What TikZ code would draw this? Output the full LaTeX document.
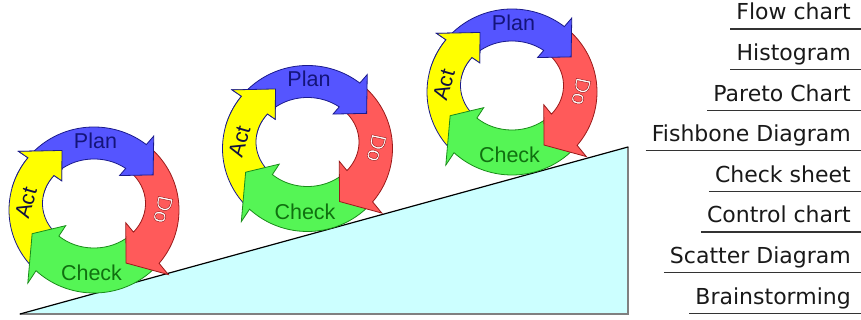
\documentclass[tikz,border=0pt]{standalone}
\usepackage{fontspec}
\newfontfamily\pdcafont{Liberation Sans}
\newfontfamily\listfont{DejaVu Sans}
\usetikzlibrary{calc}

\definecolor{planfill}{HTML}{5555FF}
\definecolor{planline}{HTML}{1A1A8C}
\definecolor{plantext}{HTML}{14147A}
\definecolor{dofill}{HTML}{FF5A5A}
\definecolor{doline}{HTML}{9A1A1A}
\definecolor{checkfill}{HTML}{55F555}
\definecolor{checkline}{HTML}{1A8C1A}
\definecolor{checktext}{HTML}{107010}
\definecolor{actfill}{HTML}{FFFF00}
\definecolor{actline}{HTML}{1A1A8C}
\definecolor{acttext}{HTML}{101040}
\definecolor{slopefill}{HTML}{CCFFFF}
\definecolor{slopeedge}{HTML}{808080}

% ring geometry: s=0 on the inner ellipse (51.5 x 44.5, raised 6.5), s=1 on the outer one (85 x 83)
\pgfmathdeclarefunction{ringx}{2}{\pgfmathparse{(51.5+(#2)*33.5)*cos(#1)}}
\pgfmathdeclarefunction{ringy}{2}{\pgfmathparse{6.5*(1-(#2))+(44.5+(#2)*38.5)*sin(#1)}}

% curved arrow: tail angle, head base angle, tip angle, fill, outline
\newcommand\ringarrow[5]{%
  \filldraw[fill=#4, draw=#5, arrowline]
    plot[domain=#1:#2, samples=40] ({ringx(\x,1)},{ringy(\x,1)})
    -- ({ringx(#2,1.36)},{ringy(#2,1.36)})
    -- ({ringx(#3,0.5)},{ringy(#3,0.5)})
    -- ({ringx(#2,-0.3)},{ringy(#2,-0.3)})
    -- plot[domain=#2:#1, samples=40] ({ringx(\x,0)},{ringy(\x,0)})
    -- cycle;}

% glyphs filled in the current colour and stroked with a thin dark red rim
\newcommand\rimmed[1]{%
  \special{pdf:literal direct 2 Tr 0.45 w 0.62 0.08 0.08 RG}#1%
  \special{pdf:literal direct 0 Tr}}

% one Plan-Do-Check-Act wheel centred at (#1,#2), nodes suffixed #3
\newcommand\pdcawheel[3]{%
  \begin{scope}[shift={(#1,#2)}]
    \ringarrow{222}{141}{118}{actfill}{actline}
    \ringarrow{-45}{-133}{-155}{checkfill}{checkline}
    \ringarrow{47}{-40}{-62}{dofill}{doline}
    \ringarrow{136}{52}{30}{planfill}{planline}
    \begin{scope}
      \clip (0,0) -- (165:160) -- (132:160) -- (100:160) -- cycle;
      \ringarrow{222}{141}{118}{actfill}{actline}
    \end{scope}
    \node[wheeltext, text=plantext] (plan#3) at (1.5,69.5) {Plan};
    \node[wheeltext, text=white, rotate=-102] (do#3) at (69,0.5) {\rimmed{Do}};
    \node[wheeltext, text=checktext] (check#3) at (-2.5,-63) {Check};
    \node[wheeltext, text=acttext, rotate=74] (act#3) at (-68,7) {Act};
  \end{scope}}

\begin{document}
\begin{tikzpicture}[x=1pt, y=1pt,
  arrowline/.style={line width=0.8pt, line join=miter},
  wheeltext/.style={font={\pdcafont\fontsize{21.5}{24}\selectfont}, inner sep=0pt},
  toollabel/.style={font={\listfont\fontsize{22}{26}\selectfont}, text=black!90,
    inner sep=0pt, anchor=base east},
  toolrule/.style={draw=black!80, line width=1.2pt}]
\useasboundingbox (0,0) rectangle (861,320);

% the slope
\fill[slopefill] (20,6) -- (628,173) -- (628,6) -- cycle;
\draw[slopeedge, line width=2pt] (628,173) -- (628,6) -- (20,6);
\draw[black, line width=1.2pt, line cap=round] (20,6) -- (628,173);

% three wheels climbing the slope
\pdcawheel{94}{110}{1}
\pdcawheel{307.5}{171.5}{2}
\pdcawheel{512}{228}{3}

% list of tools, each underlined to the right edge
\foreach \name/\txt/\y in {t1/Flow chart/300, t2/Histogram/259.4, t3/Pareto Chart/218.8,
    t4/Fishbone Diagram/178.2, t5/Check sheet/137.6, t6/Control chart/97,
    t7/Scatter Diagram/56.4, t8/Brainstorming/15.8}{
  \node[toollabel] (\name) at (851,\y) {\txt};
  \draw[toolrule] ([shift={(-6pt,-9pt)}]\name.base west) -- ([shift={(10pt,-9pt)}]\name.base east);
}
\end{tikzpicture}
\end{document}
